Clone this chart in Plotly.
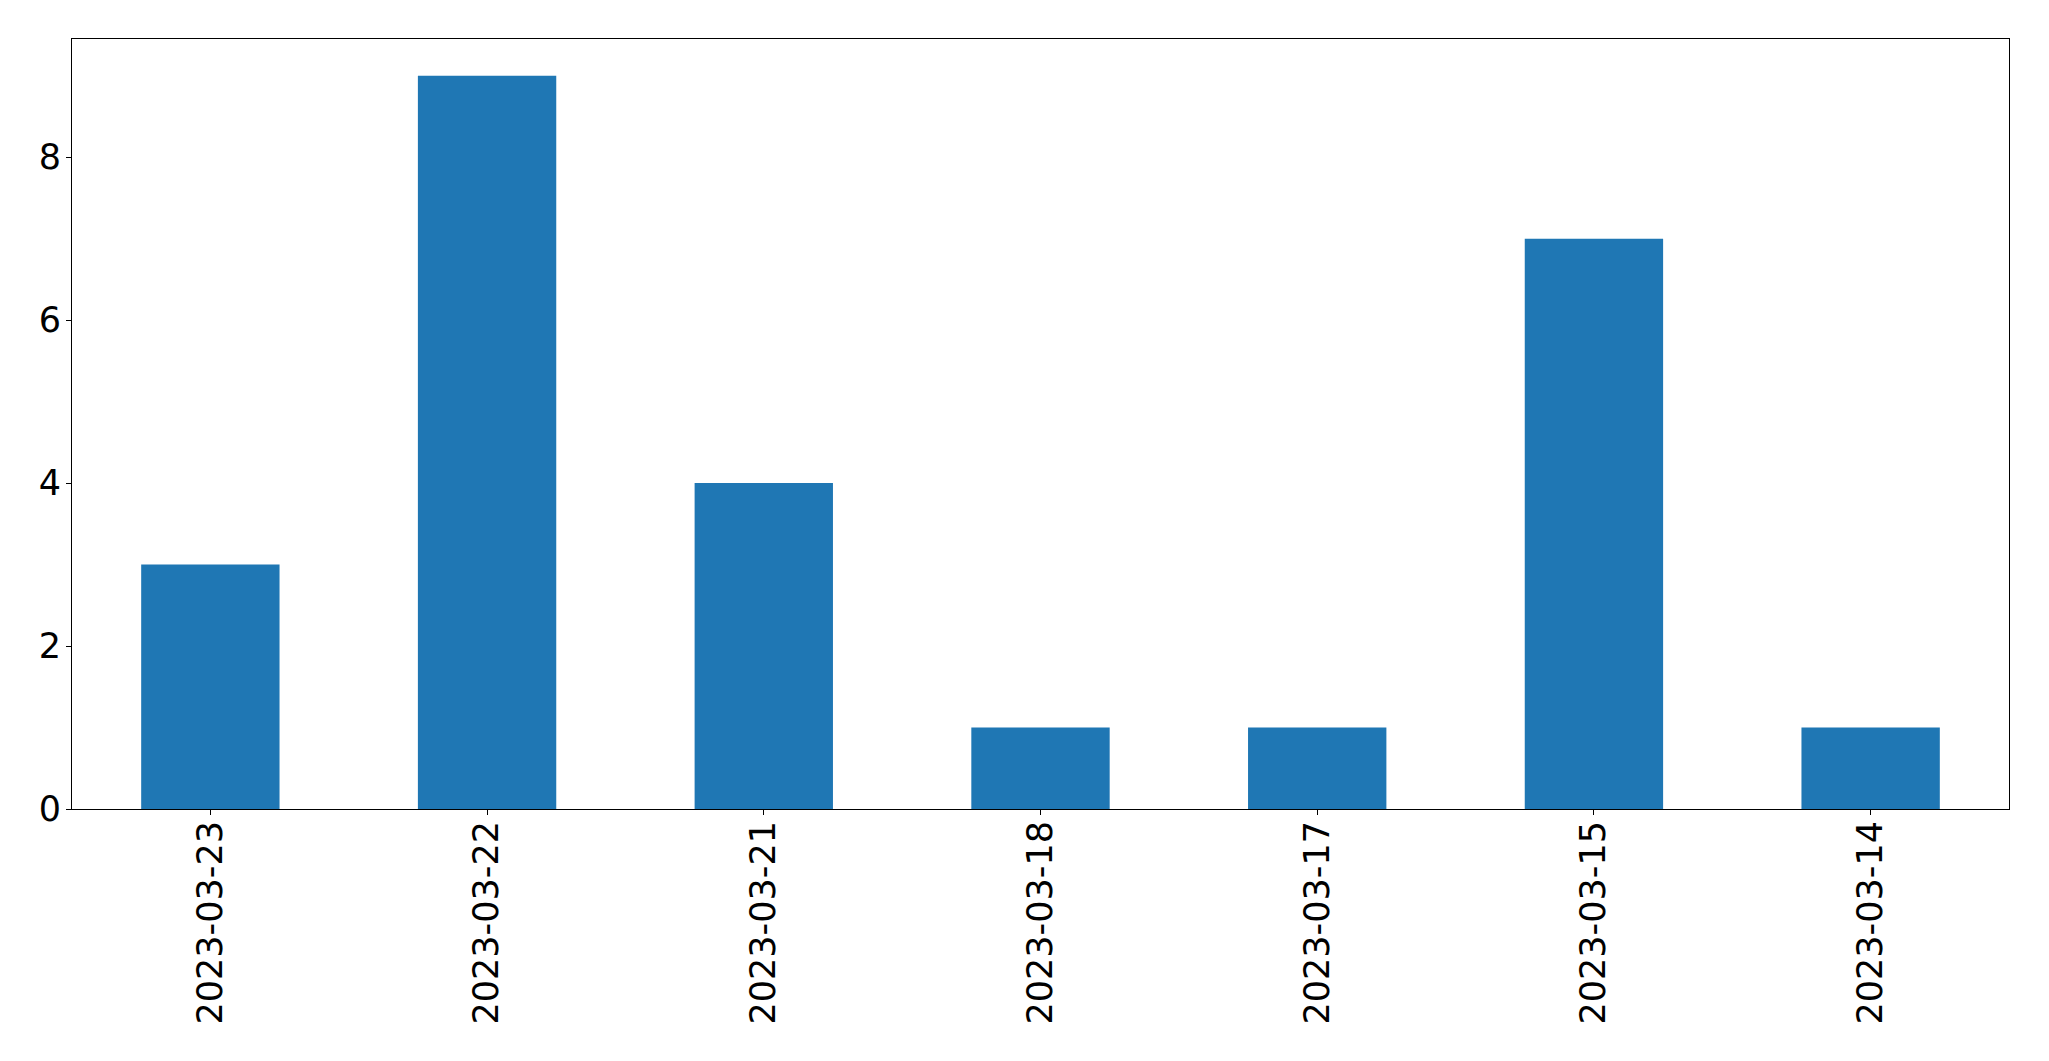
import plotly.graph_objects as go

dates = ["2023-03-23", "2023-03-22", "2023-03-21", "2023-03-18", "2023-03-17", "2023-03-15", "2023-03-14"]
counts = [3, 9, 4, 1, 1, 7, 1]
y_ticks = [0, 2, 4, 6, 8]

fig = go.Figure(go.Bar(
    x=list(range(len(dates))),
    y=counts,
    width=0.5,
    marker=dict(color="#1f77b4", line=dict(width=0)),
))

font = dict(family="DejaVu Sans", size=35, color="black")
# page body has an 8px margin; figure sized so the plot area lands at x 72-2009, y 39-809
fig.update_layout(
    width=2033, height=1045,
    margin=dict(l=64, r=32, t=31, b=244, pad=0),
    paper_bgcolor="white", plot_bgcolor="white",
    showlegend=False,
    font=font,
)
fig.update_xaxes(
    range=[-0.5, len(dates) - 0.5],
    tickmode="array", tickvals=list(range(len(dates))), ticktext=dates,
    tickangle=-90,
    showgrid=False, zeroline=False,
    showline=True, linecolor="black", linewidth=1.1, mirror=True,
    ticks="outside", ticklen=5, tickwidth=1.1, tickcolor="black",
    tickfont=font,
    ticklabelstandoff=-8,
)
fig.update_yaxes(
    range=[0, 9.45],
    tickmode="array", tickvals=y_ticks, ticktext=[str(v) for v in y_ticks],
    showgrid=False, zeroline=False,
    showline=True, linecolor="black", linewidth=1.1, mirror=True,
    ticks="outside", ticklen=5, tickwidth=1.1, tickcolor="black",
    tickfont=font,
    ticklabelstandoff=-2,
)

fig.write_html("out.html")
